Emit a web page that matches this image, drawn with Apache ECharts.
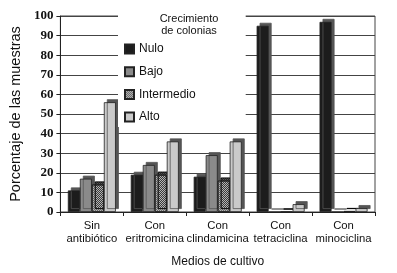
<!DOCTYPE html>
<html>
<head>
<meta charset="utf-8">
<script src="https://cdn.jsdelivr.net/npm/echarts@6/dist/echarts.min.js"></script>
<style>
  html, body { margin: 0; padding: 0; background: #fff; }
  #chart { width: 397px; height: 273px; }
</style>
</head>
<body>
<div id="chart"></div>
<script>
  // categorias (medios de cultivo)
  const categories = ['Sin\nantibiótico', 'Con\neritromicina', 'Con\nclindamicina', 'Con\ntetraciclina', 'Con\nminociclina'];
  const yTicks = [0, 10, 20, 30, 40, 50, 60, 70, 80, 90, 100];

  // crecimiento de colonias, % de las muestras
  const nulo = [11, 19, 18, 95, 97];
  const bajo = [17, 24, 29, 0, 0];
  const intermedio = [14, 19, 16, 0, 0.5];
  const alto = [56, 36, 36, 4, 2];

  const myChart = echarts.init(document.getElementById('chart'));

  const barStyle = (color, decal) => ({
    color: color,
    borderColor: '#222',
    borderWidth: 0.8,
    shadowColor: '#555',
    shadowOffsetX: 3,
    shadowOffsetY: -3,
    shadowBlur: 0,
    decal: decal
  });

  const mkSeries = (name, data, color, decal) => ({
    name: name,
    type: 'bar',
    data: data,
    barWidth: 12,
    barGap: '0%',
    itemStyle: barStyle(color, decal)
  });

  myChart.setOption({
    animation: false,
    backgroundColor: '#fff',
    grid: {
      left: 48, right: 22, top: 16, bottom: 59,
      show: true, borderColor: '#444', borderWidth: 1
    },
    graphic: [{
      type: 'text',
      x: 189, y: 13, z: 100,
      style: {
        text: 'Crecimiento\nde colonias',
        textAlign: 'center',
        font: '11px "Liberation Sans", Arial, sans-serif',
        lineHeight: 12,
        fill: '#111'
      }
    }],
    legend: {
      orient: 'vertical',
      left: 118, top: 8,
      padding: [35, 50, 4, 6],
      backgroundColor: '#fff',
      itemWidth: 9, itemHeight: 9, itemGap: 10.7,
      icon: 'rect',
      itemStyle: { shadowOffsetX: 0, shadowOffsetY: 0, shadowColor: 'transparent' },
      textStyle: { fontFamily: '"Liberation Sans", Arial, sans-serif', fontSize: 12, color: '#111' },
      data: ['Nulo', 'Bajo', 'Intermedio', 'Alto']
    },
    xAxis: {
      type: 'category',
      data: categories,
      name: 'Medios de cultivo',
      nameLocation: 'middle',
      nameGap: 44,
      nameTextStyle: { fontFamily: '"Liberation Sans", Arial, sans-serif', fontSize: 12, color: '#111' },
      axisLine: { lineStyle: { color: '#222' } },
      axisTick: { show: true, length: 4, lineStyle: { color: '#222' } },
      axisLabel: {
        interval: 0,
        fontFamily: '"Liberation Sans", Arial, sans-serif', fontSize: 11.3, color: '#111',
        lineHeight: 13, margin: 7
      }
    },
    yAxis: {
      type: 'value',
      min: yTicks[0], max: yTicks[yTicks.length - 1], interval: 10,
      name: 'Porcentaje de las muestras',
      nameLocation: 'middle',
      nameGap: 32,
      nameTextStyle: { fontFamily: '"Liberation Sans", Arial, sans-serif', fontSize: 14.5, color: '#111' },
      axisLine: { show: true, lineStyle: { color: '#222' } },
      axisTick: { show: true, length: 4, lineStyle: { color: '#222' } },
      axisLabel: {
        fontFamily: '"Liberation Serif", "DejaVu Serif", serif', fontWeight: 'bold',
        fontSize: 13, color: '#111', margin: 7
      },
      splitLine: { lineStyle: { color: '#444', width: 1 } }
    },
    series: [
      mkSeries('Nulo', nulo, '#1c1c1c'),
      mkSeries('Bajo', bajo, '#8a8a8a'),
      mkSeries('Intermedio', intermedio, '#b4b4b4', {
        symbol: 'rect', symbolSize: 1, color: 'rgba(40,40,40,0.55)',
        dashArrayX: [[1, 1], [0, 1, 1, 0]], dashArrayY: [1, 0], rotation: 0
      }),
      mkSeries('Alto', alto, '#cacaca')
    ]
  });
</script>
</body>
</html>
